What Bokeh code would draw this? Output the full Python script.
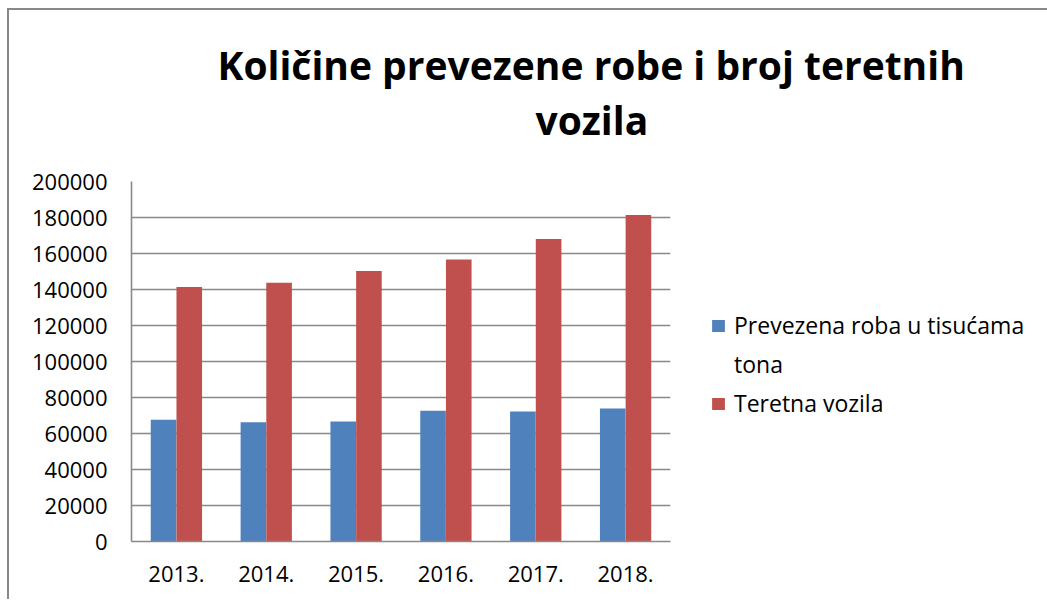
from bokeh.plotting import figure
from bokeh.models import (FactorRange, Range1d, Legend, LegendItem, Title,
                          SingleIntervalTicker, NumeralTickFormatter, ColumnDataSource)
from bokeh.transform import dodge
from bokeh.embed import file_html
from bokeh.resources import INLINE

years = ["2013.", "2014.", "2015.", "2016.", "2017.", "2018."]
roba = [67600, 66300, 66700, 72600, 72200, 73900]
vozila = [141400, 143700, 150300, 156700, 168100, 181400]

title_line1 = "Količine prevezene robe i broj teretnih"
title_line2 = "vozila"
series1_lines = ["Prevezena roba u tisućama", "tona"]
series2_name = "Teretna vozila"

BLUE = "#4F81BD"
RED = "#C0504D"
GRID = "#898989"
FONT = "Open Sans"

src = ColumnDataSource(dict(year=years, roba=roba, vozila=vozila))

p = figure(x_range=FactorRange(*years), y_range=Range1d(0, 200000),
           frame_width=539, frame_height=360,
           output_backend="svg", toolbar_location=None)
p.min_border_left = 122
p.min_border_right = 377
p.min_border_top = 171
p.min_border_bottom = 60
p.outline_line_color = None
p.background_fill_color = "white"
p.border_fill_color = "white"
p.styles = {"margin-left": "9px", "margin-top": "10px",
            "box-shadow": "-2px -2px 0 0 #888888"}

r1 = p.vbar(x=dodge("year", -0.143, range=p.x_range), top="roba", width=0.285,
            source=src, fill_color=BLUE, line_color=None)
r2 = p.vbar(x=dodge("year", 0.143, range=p.x_range), top="vozila", width=0.285,
            source=src, fill_color=RED, line_color=None)

p.x_range.range_padding = 0
p.x_range.group_padding = 0

p.yaxis.ticker = SingleIntervalTicker(interval=20000)
p.yaxis.formatter = NumeralTickFormatter(format="0")
p.ygrid.ticker = SingleIntervalTicker(interval=20000)
p.xgrid.grid_line_color = None
p.ygrid.grid_line_color = GRID
p.ygrid.grid_line_width = 1.6

for ax in (p.xaxis, p.yaxis):
    ax.axis_line_color = GRID
    ax.axis_line_width = 1.6
    ax.major_tick_line_color = None
    ax.minor_tick_line_color = None
    ax.major_tick_out = 0
    ax.major_tick_in = 0
    ax.major_label_text_font = FONT
    ax.major_label_text_font_size = "22px"
    ax.major_label_text_color = "black"
p.yaxis.major_label_standoff = 20
p.xaxis.major_label_standoff = 24

legend = Legend(items=[LegendItem(label=series1_lines[0], renderers=[r1]),
                       LegendItem(label=series1_lines[1], renderers=[]),
                       LegendItem(label=series2_name, renderers=[r2])],
                location=(40, 122))
legend.border_line_color = None
legend.background_fill_alpha = 0
legend.label_text_font = FONT
legend.label_text_font_size = "23px"
legend.label_text_color = "black"
legend.glyph_width = 16
legend.glyph_height = 15
legend.label_standoff = 8
legend.spacing = 7
legend.padding = 10
legend.margin = 0
p.add_layout(legend, "right")

t2 = Title(text=title_line2, align="left", offset=404, standoff=71,
           text_font=FONT, text_font_style="bold", text_font_size="39px", text_color="black")
t1 = Title(text=title_line1, align="left", offset=86, standoff=-70,
           text_font=FONT, text_font_style="bold", text_font_size="39px", text_color="black")
p.add_layout(t2, "above")
p.add_layout(t1, "above")

open("out.html", "w").write(file_html(p, INLINE))
